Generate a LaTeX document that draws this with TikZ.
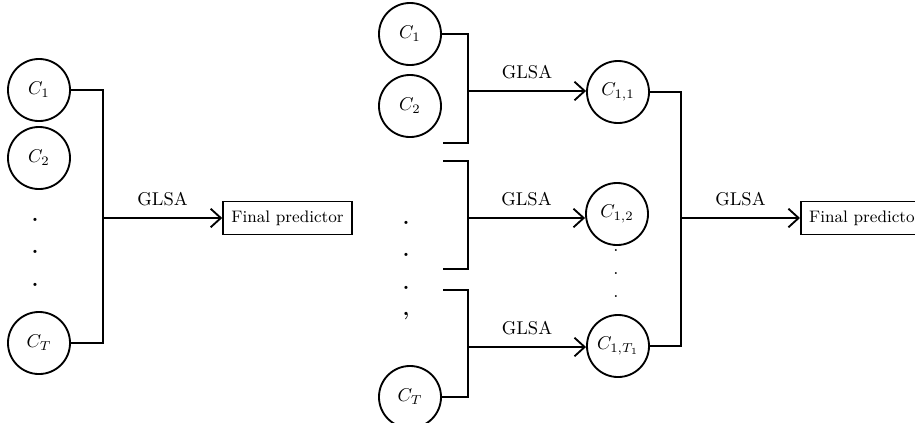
\documentclass[tikz,border=0pt]{standalone}
\usetikzlibrary{arrows.meta}
\begin{document}
\begin{tikzpicture}[x=0.54pt,y=-0.54pt,
  cnode/.style={circle,draw,line width=1pt,minimum size=33.5pt,inner sep=0pt},
  fbox/.style={rectangle,draw,line width=1pt,minimum width=69.5pt,minimum height=17.8pt,inner sep=2pt,font=\small},
  conn/.style={line width=1pt},
  arr/.style={line width=1pt,-{Straight Barb[length=5.5pt,width=10pt,line width=1pt]}},
  lab/.style={midway,above,inner sep=0pt,yshift=6pt},
  dotn/.style={inner sep=0pt,font=\large\bfseries}]
\useasboundingbox (0,0) rectangle (915,422);
\clip (0,0) rectangle (915,422);

% ---------- left diagram ----------
\node[cnode] (c1l) at (39,90) {$C_1$};
\node[cnode] (c2l) at (39,158) {$C_2$};
\node[cnode] (ctl) at (39,343) {$C_T$};
\node[dotn] (dl1) at (35,220) {.};
\node[dotn] (dl2) at (35,252) {.};
\node[dotn] (dl3) at (35,285) {.};
\coordinate (bl1) at (103,90);
\coordinate (bl2) at (103,343);
\coordinate (bml) at (103,218);
\node[fbox] (fpl) at (287.5,218) {Final predictor};
\draw[conn] (c1l.east) -- (bl1) -- (bl2) -- (ctl.east);
\draw[arr] (bml) -- (fpl.west) node[lab] {GLSA};

% ---------- right diagram ----------
\node[cnode] (c1r) at (410,34) {$C_1$};
\node[cnode] (c2r) at (410,106) {$C_2$};
\node[cnode] (ctr) at (410,397) {$C_T$};
\node[dotn] (dr1) at (406,223) {.};
\node[dotn] (dr2) at (406,255) {.};
\node[dotn] (dr3) at (406,288) {.};
\node[dotn] (dr4) at (406,316) {,};

\node[cnode] (c11) at (618,92) {$C_{1,1}$};
\node[cnode] (c12) at (617,214) {$C_{1,2}$};
\node[cnode] (c1t) at (618,346) {$C_{1,T_1}$};
\node[dotn,font=\normalsize] (dm1) at (616,251) {.};
\node[dotn,font=\normalsize] (dm2) at (616,274) {.};
\node[dotn,font=\normalsize] (dm3) at (616,297) {.};

% bracket 1
\coordinate (a1) at (468,34);
\coordinate (a2) at (468,143);
\coordinate (a3) at (443,143);
\coordinate (am) at (468,91);
\draw[conn] (c1r.east) -- (a1) -- (a2) -- (a3);
\draw[arr] (am) -- (am -| c11.west) node[lab] {GLSA};

% bracket 2
\coordinate (b0) at (443,161);
\coordinate (b1) at (468,161);
\coordinate (b2) at (468,269);
\coordinate (b3) at (443,269);
\coordinate (bm) at (468,218);
\draw[conn] (b0) -- (b1) -- (b2) -- (b3);
\draw[arr] (bm) -- (bm -| c12.west) node[lab] {GLSA};

% bracket 3
\coordinate (e0) at (443,290);
\coordinate (e1) at (468,290);
\coordinate (e2) at (468,397);
\coordinate (em) at (468,347);
\draw[conn] (e0) -- (e1) -- (e2) -- (ctr.east);
\draw[arr] (em) -- (em -| c1t.west) node[lab] {GLSA};

% big bracket
\coordinate (g1) at (681,92);
\coordinate (g2) at (681,346);
\coordinate (gm) at (681,218);
\node[fbox,anchor=west] (fpr) at (800,218) {Final predictor};
\draw[conn] (c11.east) -- (g1) -- (g2) -- (c1t.east);
\draw[arr] (gm) -- (fpr.west) node[lab] {GLSA};
\end{tikzpicture}
\end{document}
